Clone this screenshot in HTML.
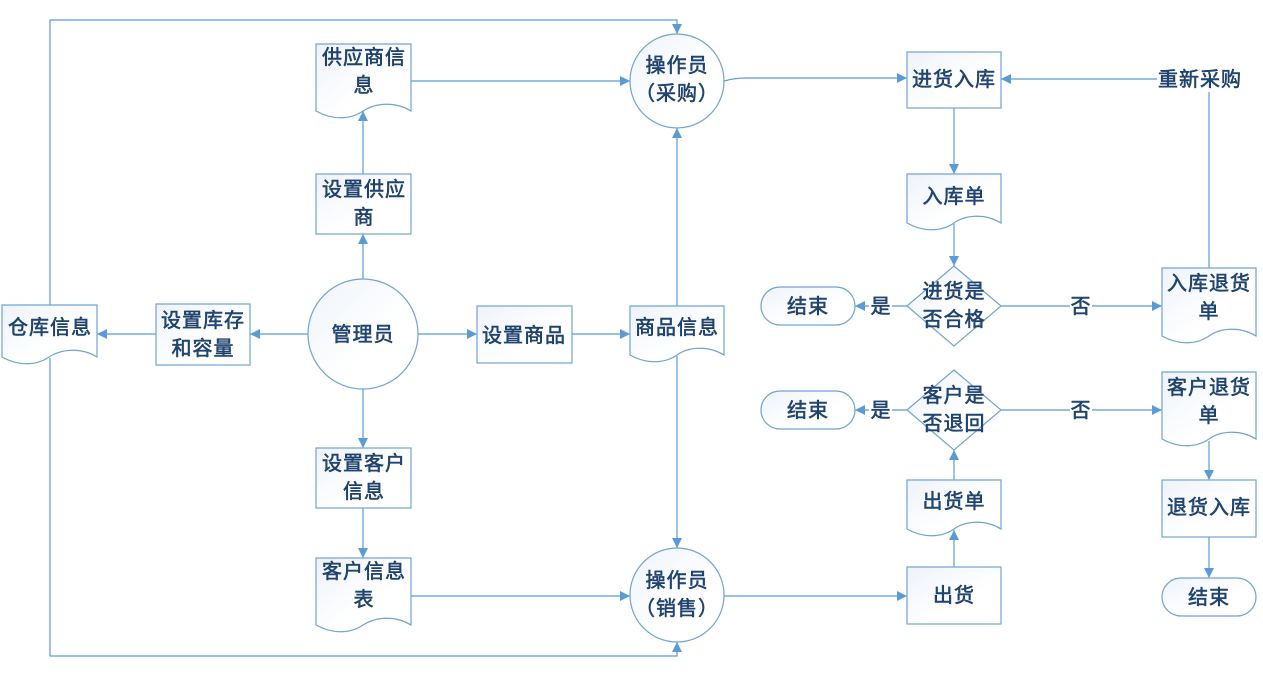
<!DOCTYPE html>
<html><head><meta charset="utf-8"><style>
html,body{margin:0;padding:0;background:#fff}
svg{display:block}
text{font-family:"Liberation Sans","Noto Sans CJK SC",sans-serif;font-size:20px;letter-spacing:1px;fill:#1f4a7c;stroke:#17365c;stroke-width:.55px;text-anchor:middle}
.s{fill:url(#g);stroke:#6fa3d6;stroke-width:1.2}
.l{fill:none;stroke:#5b9bd5;stroke-width:1.2;marker-end:url(#a)}
.n{fill:none;stroke:#5b9bd5;stroke-width:1.2}
</style></head><body>
<svg width="1263" height="676" viewBox="0 0 1263 676" xmlns="http://www.w3.org/2000/svg">
<defs>
<linearGradient id="g" x1="0" y1="0" x2="1" y2="1"><stop offset="0" stop-color="#eef3fa"/><stop offset=".6" stop-color="#fff"/></linearGradient>
<marker id="a" markerUnits="userSpaceOnUse" markerWidth="11" markerHeight="10" refX="10" refY="5" orient="auto"><path d="M0 0L10 5L0 10Z" fill="#5b9bd5"/></marker>
</defs>
<!-- connectors -->
<path class="l" d="M50 305V20H677V34"/>
<path class="l" d="M50 358V656H677V642"/>
<path class="l" d="M363 174V111"/>
<path class="l" d="M363 280V234"/>
<path class="l" d="M308 334H250"/>
<path class="l" d="M156 334H97"/>
<path class="l" d="M418 334H477"/>
<path class="l" d="M572 334H630"/>
<path class="l" d="M363 389V448"/>
<path class="l" d="M363 508V558"/>
<path class="l" d="M411 81H630"/>
<path class="l" d="M411 596H630"/>
<path class="l" d="M677 306V128"/>
<path class="l" d="M677 356V548"/>
<path class="l" d="M724 81Q735 78 745 78H907"/>
<path class="l" d="M724 596H907"/>
<path class="l" d="M954 108V174"/>
<path class="l" d="M954 224V266"/>
<path class="l" d="M1209 268V79H1001"/>
<path class="l" d="M1001 306H1162"/>
<path class="l" d="M907 306H855"/>
<path class="l" d="M1001 410H1162"/>
<path class="l" d="M907 410H855"/>
<path class="l" d="M954 480V450"/>
<path class="l" d="M954 567V530"/>
<path class="l" d="M1209 441V480"/>
<path class="l" d="M1209 537V578"/>
<!-- label backings -->
<rect x="1157" y="66" width="84" height="26" fill="#fff"/>
<rect x="1070" y="295" width="22" height="24" fill="#fff"/>
<rect x="869" y="295" width="23" height="24" fill="#fff"/>
<rect x="1070" y="399" width="22" height="24" fill="#fff"/>
<rect x="869" y="399" width="23" height="24" fill="#fff"/>
<!-- shapes -->
<path class="s" d="M316 44h95v67c-16-10-36-8-48 0c-13 9-31 9-47 0z"/>
<rect class="s" x="316" y="174" width="95" height="60"/>
<path class="s" d="M2 305h95v52c-16-10-36-8-48 0c-13 9-31 9-47 0z"/>
<rect class="s" x="156" y="304" width="94" height="61"/>
<circle class="s" cx="363" cy="334" r="55"/>
<rect class="s" x="477" y="306" width="95" height="57"/>
<path class="s" d="M630 306h94v49c-16-10-36-8-47 0c-13 9-31 9-47 0z"/>
<circle class="s" cx="677" cy="81" r="47"/>
<circle class="s" cx="677" cy="595" r="47"/>
<rect class="s" x="316" y="448" width="95" height="60"/>
<path class="s" d="M316 558h95v67c-16-10-36-8-48 0c-13 9-31 9-47 0z"/>
<rect class="s" x="907" y="52" width="94" height="56"/>
<path class="s" d="M907 174h94v49c-16-10-36-8-47 0c-13 9-31 9-47 0z"/>
<path class="s" d="M954 266L1001 306L954 346L907 306Z"/>
<rect class="s" x="761" y="287" width="94" height="38" rx="19"/>
<path class="s" d="M1162 268h94v68c-16-10-36-8-47 0c-13 9-31 9-47 0z"/>
<path class="s" d="M954 370L1001 410L954 450L907 410Z"/>
<rect class="s" x="761" y="391" width="94" height="38" rx="19"/>
<path class="s" d="M1162 372h94v67c-16-10-36-8-47 0c-13 9-31 9-47 0z"/>
<rect class="s" x="1162" y="480" width="94" height="57"/>
<rect class="s" x="1162" y="578" width="94" height="38" rx="19"/>
<path class="s" d="M907 480h94v49c-16-10-36-8-47 0c-13 9-31 9-47 0z"/>
<rect class="s" x="907" y="567" width="94" height="57"/>
<!-- labels -->
<text x="364" y="64">供应商信</text><text x="364" y="92">息</text>
<text x="364" y="196">设置供应</text><text x="364" y="224">商</text>
<text x="50" y="334">仓库信息</text>
<text x="203" y="327">设置库存</text><text x="203" y="355">和容量</text>
<text x="363" y="341">管理员</text>
<text x="524" y="342">设置商品</text>
<text x="677" y="334">商品信息</text>
<text x="677" y="72">操作员</text><text x="677" y="100">（采购）</text>
<text x="677" y="587">操作员</text><text x="677" y="615">（销售）</text>
<text x="364" y="470">设置客户</text><text x="364" y="498">信息</text>
<text x="364" y="578">客户信息</text><text x="364" y="606">表</text>
<text x="954" y="86">进货入库</text>
<text x="954" y="203">入库单</text>
<text x="954" y="298">进货是</text><text x="954" y="326">否合格</text>
<text x="808" y="313">结束</text>
<text x="881" y="313">是</text>
<text x="1081" y="313">否</text>
<text x="1209" y="290">入库退货</text><text x="1209" y="318">单</text>
<text x="1200" y="86">重新采购</text>
<text x="954" y="402">客户是</text><text x="954" y="430">否退回</text>
<text x="808" y="417">结束</text>
<text x="881" y="417">是</text>
<text x="1081" y="417">否</text>
<text x="1209" y="394">客户退货</text><text x="1209" y="422">单</text>
<text x="1209" y="514">退货入库</text>
<text x="1209" y="604">结束</text>
<text x="954" y="508">出货单</text>
<text x="954" y="602">出货</text>
</svg>
</body></html>
